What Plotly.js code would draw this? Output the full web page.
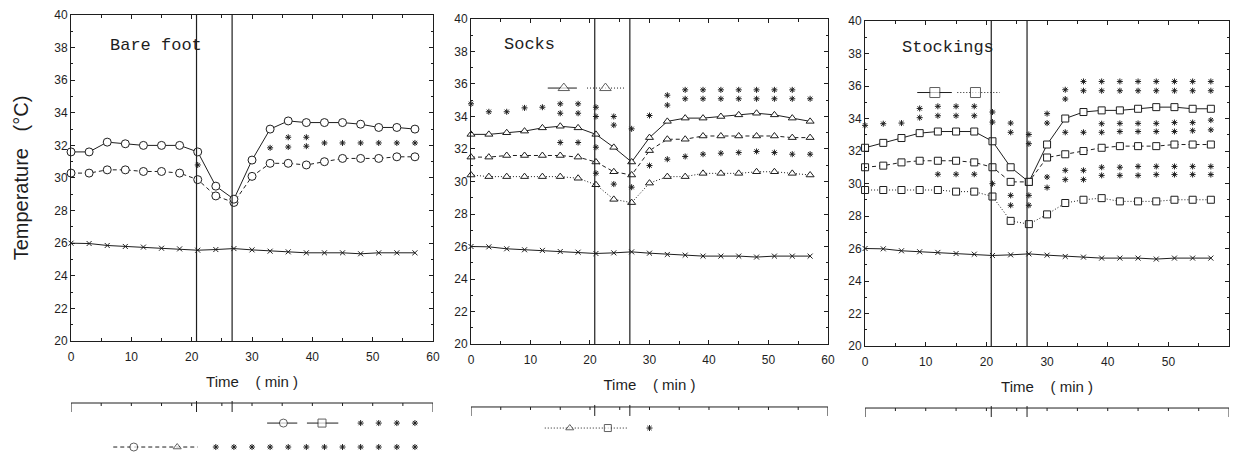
<!DOCTYPE html>
<html>
<head>
<meta charset="utf-8">
<script src="https://cdn.plot.ly/plotly-3.0.1.min.js"></script>
<style>html,body{margin:0;padding:0;background:#fff;}#chart{width:1233px;height:452px;}</style>
</head>
<body>
<div id="chart"></div>
<script>
// ---------- data ----------
const time = [0, 3, 6, 9, 12, 15, 18, 21, 24, 27, 30, 33, 36, 39, 42, 45, 48, 51, 54, 57];
const ambient = [26.0, 25.98, 25.86, 25.8, 25.76, 25.69, 25.65, 25.57, 25.61, 25.67, 25.59, 25.51, 25.47, 25.41, 25.41, 25.41, 25.35, 25.41, 25.41, 25.41];

const bareUpper = [31.6, 31.6, 32.2, 32.1, 32.0, 32.0, 32.0, 31.6, 29.5, 28.7, 31.1, 33.0, 33.5, 33.4, 33.4, 33.4, 33.3, 33.1, 33.1, 33.0];
const bareLower = [30.3, 30.3, 30.5, 30.5, 30.4, 30.4, 30.3, 29.9, 28.9, 28.5, 30.1, 30.9, 30.9, 30.8, 31.0, 31.2, 31.2, 31.2, 31.3, 31.3];

const socksUpper = [32.9, 32.9, 33.0, 33.1, 33.3, 33.4, 33.3, 32.9, 32.1, 31.2, 32.7, 33.7, 33.9, 33.9, 34.0, 34.1, 34.2, 34.1, 33.9, 33.7];
const socksMid   = [31.5, 31.5, 31.6, 31.6, 31.6, 31.6, 31.5, 31.2, 30.6, 30.4, 31.9, 32.6, 32.6, 32.8, 32.8, 32.8, 32.8, 32.8, 32.7, 32.7];
const socksLower = [30.4, 30.3, 30.3, 30.3, 30.3, 30.3, 30.2, 29.8, 28.9, 28.7, 29.9, 30.3, 30.3, 30.5, 30.5, 30.5, 30.6, 30.6, 30.5, 30.4];

const stockUpper = [32.2, 32.5, 32.8, 33.1, 33.2, 33.2, 33.2, 32.6, 31.0, 30.1, 32.4, 34.0, 34.4, 34.5, 34.5, 34.6, 34.7, 34.7, 34.6, 34.6];
const stockMid   = [31.0, 31.1, 31.3, 31.4, 31.4, 31.4, 31.3, 31.0, 30.1, 30.1, 31.6, 31.8, 32.0, 32.2, 32.3, 32.3, 32.3, 32.4, 32.4, 32.4];
const stockLower = [29.6, 29.6, 29.6, 29.6, 29.6, 29.5, 29.5, 29.2, 27.7, 27.5, 28.1, 28.8, 29.0, 29.1, 28.9, 28.9, 28.9, 29.0, 29.0, 29.0];

// significance asterisks
const bareStarX = [21, 33, 36, 36, 39, 39, 42, 45, 48, 51, 54, 57];
const bareStarY = [30.8, 31.85, 32.5, 31.9, 32.5, 31.95, 32.15, 32.15, 32.15, 32.15, 32.15, 32.15];

const socksStarX = [0, 3, 6, 9, 12, 15, 15, 18, 18, 21, 21, 24, 24, 27, 30, 33, 33, 36, 36, 39, 39, 42, 42, 45, 45, 48, 48, 51, 51, 54, 54, 57,
                    15, 18, 21, 21, 24, 27, 30, 33, 36, 39, 42, 45, 48, 51, 54, 57];
const socksStarY = [34.78, 34.29, 34.29, 34.53, 34.57, 34.78, 34.2, 34.78, 34.2, 34.57, 34.0, 34.0, 33.47, 33.24, 34.06, 35.31, 34.7,
                    35.64, 35.09, 35.64, 35.09, 35.64, 35.09, 35.64, 35.09, 35.64, 35.09, 35.64, 35.09, 35.64, 35.09, 35.09,
                    32.4, 32.4, 32.11, 30.51, 29.84, 29.65, 30.98, 31.37, 31.54, 31.68, 31.74, 31.78, 31.85, 31.78, 31.68, 31.68];

const stockStarX = [0, 3, 6, 9, 9, 12, 12, 15, 15, 18, 18, 21, 21, 24, 24, 27, 27, 30, 30, 33, 33,
                    36, 36, 39, 39, 42, 42, 45, 45, 48, 48, 51, 51, 54, 54, 57, 57,
                    33, 36, 39, 39, 42, 42, 45, 45, 48, 48, 51, 51, 54, 54, 57, 57,
                    12, 15, 18, 21, 24, 24, 27, 27, 30, 30, 33, 33, 36, 36, 39, 39, 42, 42, 45, 45, 48, 48, 51, 51, 54, 54, 57, 57];
const stockStarY = [33.58, 33.68, 33.72, 34.62, 34.05, 34.75, 34.17, 34.75, 34.17, 34.75, 34.17, 34.4, 33.78, 33.72, 33.15, 33.02, 32.45, 34.3, 33.72, 35.77, 35.2,
                    36.28, 35.71, 36.28, 35.71, 36.28, 35.71, 36.28, 35.71, 36.28, 35.71, 36.28, 35.71, 36.28, 35.71, 36.28, 35.71,
                    33.15, 33.15, 33.68, 33.15, 33.7, 33.2, 33.7, 33.2, 33.7, 33.2, 33.75, 33.2, 33.75, 33.25, 33.9, 33.3,
                    30.57, 30.57, 30.57, 29.99, 29.27, 28.66, 29.27, 28.66, 30.4, 29.75, 30.81, 30.24, 30.81, 30.24,
                    31.0, 30.5, 31.0, 30.5, 31.05, 30.5, 31.05, 30.55, 31.05, 30.55, 31.05, 30.55, 31.05, 30.55];

// strip comparisons below panels
const strip1Row1Stars = [48, 51, 54, 57];
const strip1Row2Stars = [24, 27, 30, 33, 36, 39, 42, 45, 48, 51, 54, 57];
const strip2Stars = [30];

const xTickVals = [0, 10, 20, 30, 40, 50, 60];
const yTickVals = [20, 22, 24, 26, 28, 30, 32, 34, 36, 38, 40];
const markTimes = [20.8, 26.7];

// ---------- styles ----------
const INK = '#1e1e1e';
const tickFont = {family: 'Liberation Sans, Arial, sans-serif', size: 12, color: INK};
const monoFont = {family: 'Liberation Mono, Courier New, monospace', size: 17, color: INK};

function series(x, y, xa, ya, dash, symbol, size) {
  return {x: x, y: y, xaxis: xa, yaxis: ya, type: 'scatter', mode: 'lines+markers',
    line: {color: INK, width: 1, dash: dash},
    marker: {symbol: symbol, size: size, color: '#fff', line: {color: INK, width: 1}},
    showlegend: false, hoverinfo: 'x+y', cliponaxis: false};
}
function ambientTrace(xa, ya) {
  return {x: time, y: ambient, xaxis: xa, yaxis: ya, type: 'scatter', mode: 'lines+markers',
    line: {color: INK, width: 1},
    marker: {symbol: 'x-thin-open', size: 5, color: INK, line: {color: INK, width: 1}},
    showlegend: false, cliponaxis: false};
}
function stars(x, y, xa, ya) {
  return {x: x, y: y, xaxis: xa, yaxis: ya, type: 'scatter', mode: 'markers',
    marker: {symbol: 'asterisk-open', size: 5, color: INK, line: {color: INK, width: 1}},
    showlegend: false, cliponaxis: false};
}
function key(x, y, xa, ya, dash, symbols, sizes) {
  return {x: x, y: x.map(() => y), xaxis: xa, yaxis: ya, type: 'scatter', mode: 'lines+markers',
    line: {color: INK, width: 1, dash: dash},
    marker: {symbol: symbols, size: sizes, color: '#fff', line: {color: INK, width: 1}},
    showlegend: false, hoverinfo: 'skip', cliponaxis: false};
}

const DASH = '4px,3px';
const DOT = '1px,2px';

const traces = [
  // Bare foot
  ambientTrace('x', 'y'),
  series(time, bareLower, 'x', 'y', DASH, 'circle', 8),
  series(time, bareUpper, 'x', 'y', 'solid', 'circle', 8),
  stars(bareStarX, bareStarY, 'x', 'y'),
  // Socks
  ambientTrace('x2', 'y2'),
  series(time, socksLower, 'x2', 'y2', DOT, 'triangle-up', 7),
  series(time, socksMid, 'x2', 'y2', DASH, 'triangle-up', 7),
  series(time, socksUpper, 'x2', 'y2', 'solid', 'triangle-up', 7),
  stars(socksStarX, socksStarY, 'x2', 'y2'),
  key([12.9, 15.6, 17.8], 35.75, 'x2', 'y2', 'solid', 'triangle-up', [0, 10, 0]),
  key([19.5, 22.6, 25.9], 35.75, 'x2', 'y2', DOT, 'triangle-up', [0, 10, 0]),
  // Stockings
  ambientTrace('x3', 'y3'),
  series(time, stockLower, 'x3', 'y3', DOT, 'square', 7),
  series(time, stockMid, 'x3', 'y3', DASH, 'square', 7),
  series(time, stockUpper, 'x3', 'y3', 'solid', 'square', 7),
  stars(stockStarX, stockStarY, 'x3', 'y3'),
  key([8.6, 11.5, 14.3], 35.6, 'x3', 'y3', 'solid', 'square', [0, 10, 0]),
  key([15.2, 18.2, 22.2], 35.6, 'x3', 'y3', DOT, 'square', [0, 10, 0]),
  // strip keys (paper-height units on y4 / y5)
  key([32.5, 35.2, 37.5], 0.064, 'x', 'y4', 'solid', 'circle', [0, 8, 0]),
  key([39.1, 41.6, 44.3], 0.064, 'x', 'y4', 'solid', 'square', [0, 8, 0]),
  stars(strip1Row1Stars, strip1Row1Stars.map(() => 0.064), 'x', 'y4'),
  key([7, 10.4, 17.6, 21], 0.011, 'x', 'y4', DASH, ['circle', 'circle', 'triangle-up', 'circle'], [0, 8, 7, 0]),
  stars(strip1Row2Stars, strip1Row2Stars.map(() => 0.011), 'x', 'y4'),
  key([12.4, 16.6, 23, 26.4], 0.053, 'x2', 'y5', DOT, ['circle', 'triangle-up', 'square', 'circle'], [0, 7, 7, 0]),
  stars(strip2Stars, strip2Stars.map(() => 0.053), 'x2', 'y5')
];

function xAxis(domain, anchor, title) {
  return {domain: domain, anchor: anchor, range: [0, 60], tickvals: xTickVals, ticks: 'inside', ticklen: 4,
    tickcolor: INK, showline: true, linecolor: INK, linewidth: 1, mirror: 'ticks', showgrid: false, zeroline: false,
    minor: {dtick: 5, ticks: 'inside', ticklen: 3, tickcolor: INK}, tickfont: tickFont, ticklabelstandoff: 5,
    title: {text: title, font: {family: 'Liberation Sans, Arial, sans-serif', size: 15, color: INK}, standoff: 13},
    fixedrange: true};
}
function yAxis(domain, anchor, title) {
  return {domain: domain, anchor: anchor, range: [20, 40], tickvals: yTickVals, ticks: 'inside', ticklen: 4,
    tickcolor: INK, showline: true, linecolor: INK, linewidth: 1, mirror: 'ticks', showgrid: false, zeroline: false,
    minor: {dtick: 1, ticks: 'inside', ticklen: 2, tickcolor: INK}, tickfont: tickFont,
    title: {text: title, font: {family: 'Liberation Sans, Arial, sans-serif', size: 20, color: INK}, standoff: 20},
    fixedrange: true};
}

const NB = '\u00a0';
const timeTitle = 'Time' + NB + NB + NB + NB + '(' + NB + 'min' + NB + ')';

// strip shapes
const shapes = [];
function strip(xref, yp) {
  const line = {color: INK, width: 1};
  shapes.push({type: 'line', xref: xref, yref: 'paper', x0: 0, x1: 60, y0: yp, y1: yp, line: line});
  [0, 60].forEach(v => shapes.push({type: 'line', xref: xref, yref: 'paper', x0: v, x1: v, y0: yp, y1: yp - 9 / 452, line: line}));
  [5, 10, 15, 20, 25, 30, 35, 40, 45, 50, 55].forEach(v => shapes.push({type: 'line', xref: xref, yref: 'paper', x0: v, x1: v, y0: yp, y1: yp - 3 / 452, line: line}));
  markTimes.forEach(v => shapes.push({type: 'line', xref: xref, yref: 'paper', x0: v, x1: v, y0: yp + 2 / 452, y1: yp - 9 / 452, line: line}));
}
function marks(xref, yref) {
  markTimes.forEach(v => shapes.push({type: 'line', xref: xref, yref: yref, x0: v, x1: v, y0: 20, y1: 40,
    line: {color: INK, width: 1.2}}));
}
marks('x', 'y'); marks('x2', 'y2'); marks('x3', 'y3');
strip('x', 0.1084); strip('x2', 0.0996); strip('x3', 0.0973);

const layout = {
  width: 1233, height: 452, margin: {l: 0, r: 0, t: 0, b: 0},
  paper_bgcolor: '#fff', plot_bgcolor: '#fff', showlegend: false,
  xaxis: xAxis([0.0576, 0.3512], 'y', timeTitle),
  yaxis: yAxis([0.2456, 0.9668], 'x', 'Temperature' + NB + NB + NB + '(°C)'),
  xaxis2: xAxis([0.382, 0.6715], 'y2', timeTitle),
  yaxis2: yAxis([0.2389, 0.958], 'x2', ''),
  xaxis3: xAxis([0.7016, 0.9968], 'y3', timeTitle),
  yaxis3: yAxis([0.2345, 0.9535], 'x3', ''),
  yaxis4: {domain: [0, 0.14], range: [0, 0.14], anchor: 'x', visible: false, fixedrange: true},
  yaxis5: {domain: [0, 0.14], range: [0, 0.14], anchor: 'x2', visible: false, fixedrange: true},
  shapes: shapes,
  annotations: [
    {text: 'Bare foot', xref: 'x', yref: 'y', x: 6.1, y: 38.1, xanchor: 'left', yanchor: 'middle', showarrow: false, font: monoFont},
    {text: 'Socks', xref: 'x2', yref: 'y2', x: 5.2, y: 38.4, xanchor: 'left', yanchor: 'middle', showarrow: false, font: monoFont},
    {text: 'Stockings', xref: 'x3', yref: 'y3', x: 5.8, y: 38.4, xanchor: 'left', yanchor: 'middle', showarrow: false, font: monoFont}
  ]
};

Plotly.newPlot('chart', traces, layout, {staticPlot: true, displayModeBar: false});
</script>
</body>
</html>
